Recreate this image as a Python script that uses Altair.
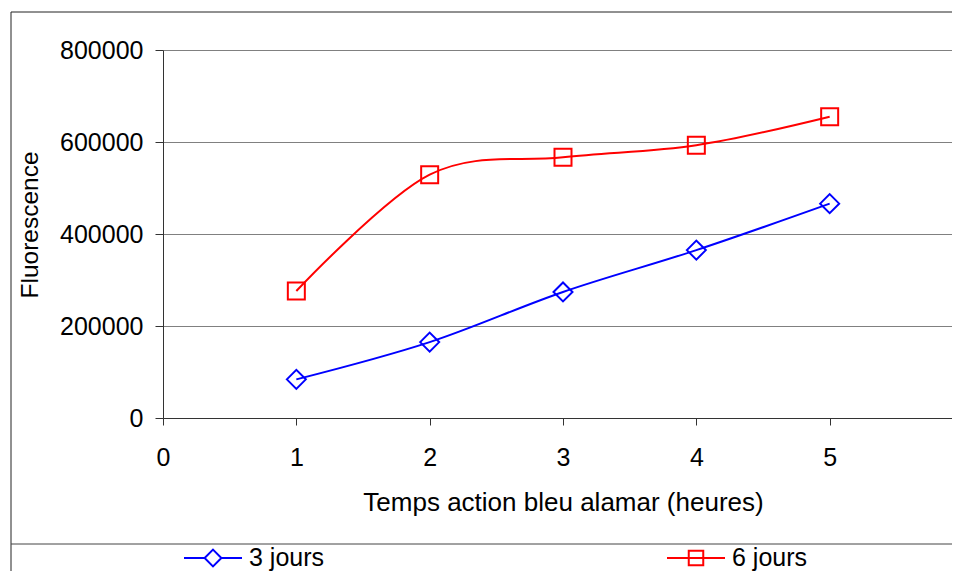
import altair as alt
import pandas as pd

heures = [1, 2, 3, 4, 5]
jours3 = [84000, 165000, 274000, 365000, 466000]
jours6 = [276000, 529000, 567000, 593000, 655000]
series = ["3 jours", "6 jours"]
colors = ["#0000FF", "#FF0000"]
marker_shapes = ["diamond", "square"]
marker_sizes = [361, 289]
x_ticks = [0, 1, 2, 3, 4, 5, 6]
y_ticks = [0, 200000, 400000, 600000, 800000]

df = pd.DataFrame({
    "heures": heures * 2,
    "fluo": jours3 + jours6,
    "serie": [series[0]] * len(heures) + [series[1]] * len(heures),
})

FONT = "Liberation Sans"

# plot area: 800 px for 0..6 in the original, cropped by the window edge
PLOT_W = 789
X_MAX = 6 * PLOT_W / 800

# legend symbols: line + marker (custom paths in unit coordinates)
diamond_path = "M-1,0L-0.29,0M0.29,0L1,0M0,-0.29L0.29,0L0,0.29L-0.29,0Z"
square_path = "M-1,0L1,0M-0.25,-0.25L0.25,-0.25L0.25,0.25L-0.25,0.25Z"

x_enc = alt.X(
    "heures:Q",
    scale=alt.Scale(domain=[0, X_MAX], nice=False, zero=False),
    axis=alt.Axis(
        values=x_ticks, title="Temps action bleu alamar (heures)", grid=False,
        tickSize=7, labelPadding=20, labelFontSize=25, labelFlush=False,
        labelColor="#000", domainColor="#333", tickColor="#333",
        titleFontSize=26, titleFontWeight="normal", titleColor="#000",
        titleX=400, titleY=92, titleAlign="center", titleBaseline="alphabetic",
    ),
)
y_enc = alt.Y(
    "fluo:Q",
    scale=alt.Scale(domain=[0, 800000], nice=False),
    axis=alt.Axis(
        values=y_ticks, format="d", title="Fluorescence", grid=True,
        gridColor="#808080", gridWidth=1, tickSize=8, labelPadding=12,
        labelFontSize=25, labelFlush=False, labelColor="#000",
        domainColor="#333", tickColor="#333",
        titleFontSize=24.5, titleFontWeight="normal", titleColor="#000",
        titleX=-126, titleY=174.5, titleAlign="center", titleBaseline="alphabetic",
        titleAngle=270,
    ),
)

layers = []

one = alt.Data(values=[{}])
frame_top = alt.Chart(one).mark_rule(color="#222", strokeWidth=1).encode(
    x=alt.value(-152), x2=alt.value(1000), y=alt.value(-38)
)
frame_left = alt.Chart(one).mark_rule(color="#222", strokeWidth=1).encode(
    x=alt.value(-152), y=alt.value(-38), y2=alt.value(700)
)
sep = alt.Chart(one).mark_rule(color="#444", strokeWidth=1).encode(
    x=alt.value(-152), x2=alt.value(1000), y=alt.value(494)
)
layers += [frame_top, frame_left, sep]

for s, c, shp, sz in zip(series, colors, marker_shapes, marker_sizes):
    sub = alt.Chart(df).transform_filter(alt.datum.serie == s)
    layers.append(sub.mark_line(color=c, strokeWidth=2, interpolate="cardinal").encode(x=x_enc, y=y_enc))
    layers.append(sub.mark_point(shape=shp, size=sz, color=c, filled=False, strokeWidth=2, opacity=1).encode(x=x_enc, y=y_enc))

leg_props = dict(
    orient="none", legendX=20, legendY=478, direction="horizontal", columns=2,
    columnPadding=338, symbolSize=3364, symbolStrokeWidth=2, labelFontSize=25,
    labelFont=FONT, labelOffset=6, title=None, padding=0, labelColor="#000",
)
legend_layer = alt.Chart(df).transform_filter("false").mark_point(
    filled=False, opacity=1, strokeWidth=2
).encode(
    x=x_enc, y=y_enc,
    color=alt.Color("serie:N", scale=alt.Scale(domain=series, range=colors), legend=alt.Legend(**leg_props)),
    shape=alt.Shape("serie:N", scale=alt.Scale(domain=series, range=[diamond_path, square_path]), legend=alt.Legend(**leg_props)),
)
layers.append(legend_layer)

chart = alt.layer(*layers).properties(
    width=PLOT_W, height=368,
    autosize=alt.AutoSizeParams(type="none"),
    padding={"left": 155, "top": 42, "right": 0, "bottom": 153},
    background="white",
).configure(font=FONT).configure_view(strokeWidth=0)

chart.save("out.html", embed_options={"renderer": "svg", "actions": False})
